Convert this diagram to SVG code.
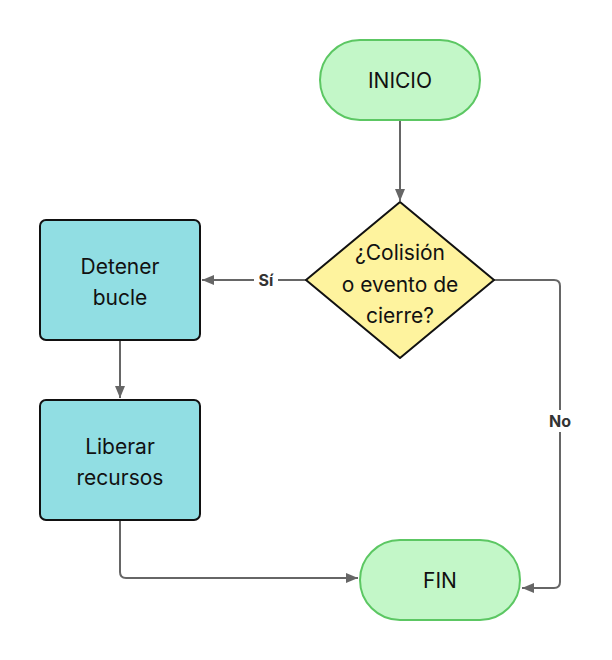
<svg xmlns="http://www.w3.org/2000/svg" width="612" height="660" viewBox="0 0 612 660">
<style>
.t{font-family:Inter,"Liberation Sans",sans-serif;font-size:21px;fill:#111;text-anchor:middle;dominant-baseline:central}
.term{fill:#c3f7c8;stroke:#5cc763;stroke-width:2}
.proc{fill:#91dee3;stroke:#111;stroke-width:2}
.dec{fill:#fef39e;stroke:#111;stroke-width:2;stroke-linejoin:round}
.e{fill:none;stroke:#666;stroke-width:2}
.lbl{font-family:Inter,"Liberation Sans",sans-serif;font-size:16px;font-weight:bold;fill:#333;text-anchor:middle;dominant-baseline:central}
</style>
<defs>
<marker id="a" markerWidth="12" markerHeight="10" refX="12" refY="5" orient="auto" markerUnits="userSpaceOnUse">
<path d="M0,0 L12,5 L0,10 z" fill="#666"/>
</marker>
</defs>
<g id="connectors">
<path class="e" d="M400,120 V201" marker-end="url(#a)"/>
<path class="e" d="M306,280 H202" marker-end="url(#a)"/>
<rect x="254" y="270" width="24" height="20" fill="#fff"/>
<text class="lbl" x="266" y="280">Sí</text>
<path class="e" d="M494,280 H554 Q560,280 560,286 V582 Q560,588 554,588 H522" marker-end="url(#a)"/>
<rect x="545" y="410" width="30" height="22" fill="#fff"/>
<text class="lbl" x="560" y="421">No</text>
<path class="e" d="M120,340 V398" marker-end="url(#a)"/>
<path class="e" d="M120,520 V572 Q120,578 126,578 H358" marker-end="url(#a)"/>
</g>
<g id="inicio">
<rect class="term" x="320" y="40" width="160" height="80" rx="40"/>
<text class="t" x="400" y="80">INICIO</text>
</g>
<g id="decision">
<path class="dec" d="M400,202 L494,280 L400,358 L306,280 Z"/>
<text class="t" x="400" y="252">¿Colisión</text>
<text class="t" x="400" y="284">o evento de</text>
<text class="t" x="400" y="315">cierre?</text>
</g>
<g id="detener">
<rect class="proc" x="40" y="220" width="160" height="120" rx="6"/>
<text class="t" x="120" y="266">Detener</text>
<text class="t" x="120" y="297">bucle</text>
</g>
<g id="liberar">
<rect class="proc" x="40" y="400" width="160" height="120" rx="6"/>
<text class="t" x="120" y="446">Liberar</text>
<text class="t" x="120" y="477">recursos</text>
</g>
<g id="fin">
<rect class="term" x="360" y="540" width="160" height="80" rx="40"/>
<text class="t" x="440" y="580">FIN</text>
</g>
</svg>
